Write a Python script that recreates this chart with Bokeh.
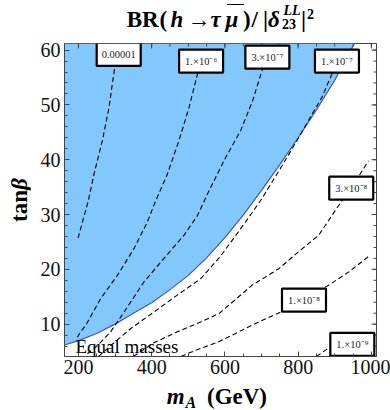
import math
from bokeh.plotting import figure
from bokeh.models import Range1d, FixedTicker, Label, ColumnDataSource, Div
from bokeh.layouts import column, row
from bokeh.core.properties import value
from bokeh.embed import file_html
from bokeh.resources import INLINE

# ---------------- data ----------------
x_ticks = [200, 400, 600, 800, 1000]
y_ticks = [10, 20, 30, 40, 50, 60]
x_minor = list(range(200, 1001, 50))
y_minor = list(range(6, 61, 2))

# boundary of the shaded (blue) region: tan(beta) vs m_A
boundary_mA = [162, 200, 250, 300, 350, 400, 450, 500, 550, 600, 650, 700, 750, 800, 850, 900, 954]
boundary_tb = [6.2, 7.0, 8.3, 10.0, 12.0, 13.9, 16.3, 18.9, 22.1, 25.8, 29.9, 34.4, 39.1, 44.0,
               49.1, 54.5, 61.2]

# dashed contours of BR/|delta|^2
c1_mA = [199, 211, 227, 242.6, 265.5, 283.5, 299, 310]
c1_tb = [25.7, 28.6, 32.5, 37.4, 43.5, 49.5, 56.8, 59.2]
c2_mA = [197, 206, 220, 261, 306.5, 351.8, 388, 411, 443, 474.6, 502, 524.9, 535]
c2_tb = [7.6, 8.6, 9.8, 14.7, 18.9, 23.8, 28.6, 32.5, 37.4, 43.5, 49.5, 55.6, 58.0]
c3_mA = [224.6, 252, 288, 324.5, 379, 433.7, 488, 525, 552, 584, 602, 643, 676, 701, 716]
c3_tb = [4.6, 6.1, 8.6, 12.2, 17.7, 22.0, 26.2, 29.8, 33.7, 38.0, 40.4, 45.3, 50.8, 56.2, 58.7]
c4_mA = [255, 290, 343, 406, 470, 534, 588, 610, 656, 701, 756, 797, 833, 865, 892, 906]
c4_tb = [4.1, 6.2, 9.2, 12.2, 15.3, 18.3, 22.4, 24.4, 28.6, 32.9, 38.9, 43.5, 47.7, 51.4, 55.6, 58.0]
c5_mA = [350, 406, 470, 534, 583, 610, 674, 747, 801, 856, 911, 945, 992]
c5_tb = [4.1, 6.6, 8.6, 10.4, 11.9, 13.4, 17.1, 20.1, 23.2, 26.2, 31.7, 34.8, 39.8]
c6_mA = [480, 515, 583, 638, 692, 752, 816, 883, 938, 997]
c6_tb = [4.1, 5.1, 6.8, 8.6, 10.4, 12.2, 14.4, 17.1, 19.5, 22.6]
c7_mA = [850, 880, 948]
c7_tb = [4.1, 5.5, 6.3]

# contour labels
label_text = ["0.00001", "1.×10⁻⁶", "3.×10⁻⁷", "1.×10⁻⁷", "3.×10⁻⁸", "1.×10⁻⁸", "1.×10⁻⁹"]
label_mA = [310, 535, 716, 906, 945, 816, 948]
label_tb = [59.2, 58.0, 58.7, 58.0, 34.8, 14.4, 6.3]

note_text = "Equal masses"
note_mA, note_tb = 192, 6.0

# ---------------- layout ----------------
X0, X1 = 162, 1014
Y0, Y1 = 4.1, 61.2
TOTAL_W, TOTAL_H = 390, 410
TITLE_H, XLAB_H, YLAB_W = 36, 27, 30
FIG_W = TOTAL_W - YLAB_W
FIG_H = TOTAL_H - TITLE_H - XLAB_H
BL, BR, BT, BB = 34, 14, 7, 27
SERIF = "Liberation Serif"
AX = "#444444"

p = figure(width=FIG_W, height=FIG_H, x_range=Range1d(X0, X1), y_range=Range1d(Y0, Y1),
           output_backend="svg", toolbar_location=None,
           min_border_left=BL, min_border_right=BR, min_border_top=BT, min_border_bottom=BB,
           background_fill_color="white", border_fill_color="white")
p.outline_line_color = AX
p.outline_line_width = 1
p.grid.visible = False

def style_axis(ax, ticks, minor, standoff):
    ax.ticker = FixedTicker(ticks=ticks, minor_ticks=minor)
    ax.major_tick_in = 5
    ax.major_tick_out = 0
    ax.minor_tick_in = 3
    ax.minor_tick_out = 0
    ax.axis_line_color = AX
    ax.major_tick_line_color = AX
    ax.minor_tick_line_color = AX
    ax.major_label_text_font = SERIF
    ax.major_label_text_font_size = "20px"
    ax.major_label_text_color = "#111111"
    ax.major_label_standoff = standoff
    ax.axis_label = None

style_axis(p.xaxis[0], x_ticks, x_minor, 3)
style_axis(p.yaxis[0], y_ticks, y_minor, 4)

# shaded region (above the boundary curve)
reg_x = boundary_mA + [X0]
reg_y = boundary_tb + [Y1]
p.patch(reg_x, reg_y, fill_color="#82c8fd", line_color=None)
p.line(boundary_mA, boundary_tb, line_color="#3b56b5", line_width=1.2)

# inward ticks on the top and right frame edges (same tick values as the axes)
p.ray(x=x_ticks, y=[Y1] * len(x_ticks), length=5, length_units="screen", angle=-math.pi / 2,
      line_color=AX, line_width=1)
p.ray(x=x_minor, y=[Y1] * len(x_minor), length=3, length_units="screen", angle=-math.pi / 2,
      line_color=AX, line_width=1)
p.ray(x=[X1] * len(y_ticks), y=y_ticks, length=5, length_units="screen", angle=math.pi,
      line_color=AX, line_width=1)
p.ray(x=[X1] * len(y_minor), y=y_minor, length=3, length_units="screen", angle=math.pi,
      line_color=AX, line_width=1)

# dashed contours
for cx, cy in [(c1_mA, c1_tb), (c2_mA, c2_tb), (c3_mA, c3_tb), (c4_mA, c4_tb),
               (c5_mA, c5_tb), (c6_mA, c6_tb), (c7_mA, c7_tb)]:
    p.line(cx, cy, line_color="black", line_width=1.1, line_dash="5 3")

# contour label boxes
lab_src = ColumnDataSource(dict(x=label_mA, y=label_tb, t=label_text))
p.rect(x="x", y="y", width=44, height=23, width_units="screen", height_units="screen",
       source=lab_src, fill_color="white", line_color="black", line_width=2.2)
p.text(x="x", y="y", text="t", source=lab_src, text_font=value(SERIF), text_font_size="10.5px",
       text_align="center", text_baseline="middle", text_color="#222222")

p.add_layout(Label(x=note_mA, y=note_tb, text=note_text, text_font=SERIF,
                   text_font_size="19px", text_align="left", text_baseline="alphabetic",
                   text_color="black"))

# ---------------- texts around the frame (HTML, mixed bold / italic) ----------------
def piece(text, left, baseline, size, italic=False, extra=""):
    top = baseline - 0.8375 * size
    st = ("position:absolute;left:%.1fpx;top:%.1fpx;font-size:%spx;line-height:1;"
          "white-space:nowrap;font-weight:bold;font-style:%s;%s"
          % (left, top, size, "italic" if italic else "normal", extra))
    return '<span style="%s">%s</span>' % (st, text)

def box(w, h, inner):
    return ('<div style="position:relative;width:%dpx;height:%dpx;font-family:\'%s\';color:#000;">%s</div>'
            % (w, h, SERIF, inner))

title_parts = [
    ("BR", 126.7, 27.7, 23, False),
    ("(", 159.5, 27.7, 23, False),
    ("h", 170.5, 27.7, 23, True),
    ("→", 187.5, 27.7, 23, False),
    ("τ", 210.5, 27.7, 23, True),
    ("μ", 225.5, 27.7, 23, True),
    (")", 243, 27.7, 23, False),
    ("/", 251.5, 27.7, 23, False),
    ("|", 263, 27.7, 23, False),
    ("δ", 268, 27.7, 23, True),
    ("LL", 283.5, 16, 14, True),
    ("23", 282, 29.5, 14, False),
    ("|", 301, 27.7, 23, False),
    ("2", 307, 19.3, 14, False),
]
title_html = "".join(piece(t, x, b, s, it) for t, x, b, s, it in title_parts)
# bar over mu
title_html += ('<span style="position:absolute;left:227px;top:4px;width:17px;height:0;'
               'border-top:1.8px solid #000;"></span>')
title_div = Div(text=box(TOTAL_W, TITLE_H, title_html), width=TOTAL_W, height=TITLE_H, margin=0)

y0 = TITLE_H + FIG_H  # top of the x-label strip
xlab_html = (piece("m", 166.7, 404.5 - y0, 23, True)
             + piece("A", 185.5, 408 - y0, 16, True)
             + piece("(GeV)", 207, 404.5 - y0, 23, False))
xlab_div = Div(text=box(TOTAL_W, XLAB_H, xlab_html), width=TOTAL_W, height=XLAB_H, margin=0)

ylab_html = piece("tan<i>β</i>", 27 - 0.8375 * 23, 221.7 - TITLE_H + 0.8375 * 23, 23, False,
                  "transform:rotate(-90deg);transform-origin:0 0;")
ylab_div = Div(text=box(YLAB_W, FIG_H, ylab_html), width=YLAB_W, height=FIG_H, margin=0)

layout = column(title_div, row(ylab_div, p, spacing=0), xlab_div, spacing=0)

open("out.html", "w").write(file_html(layout, INLINE))
